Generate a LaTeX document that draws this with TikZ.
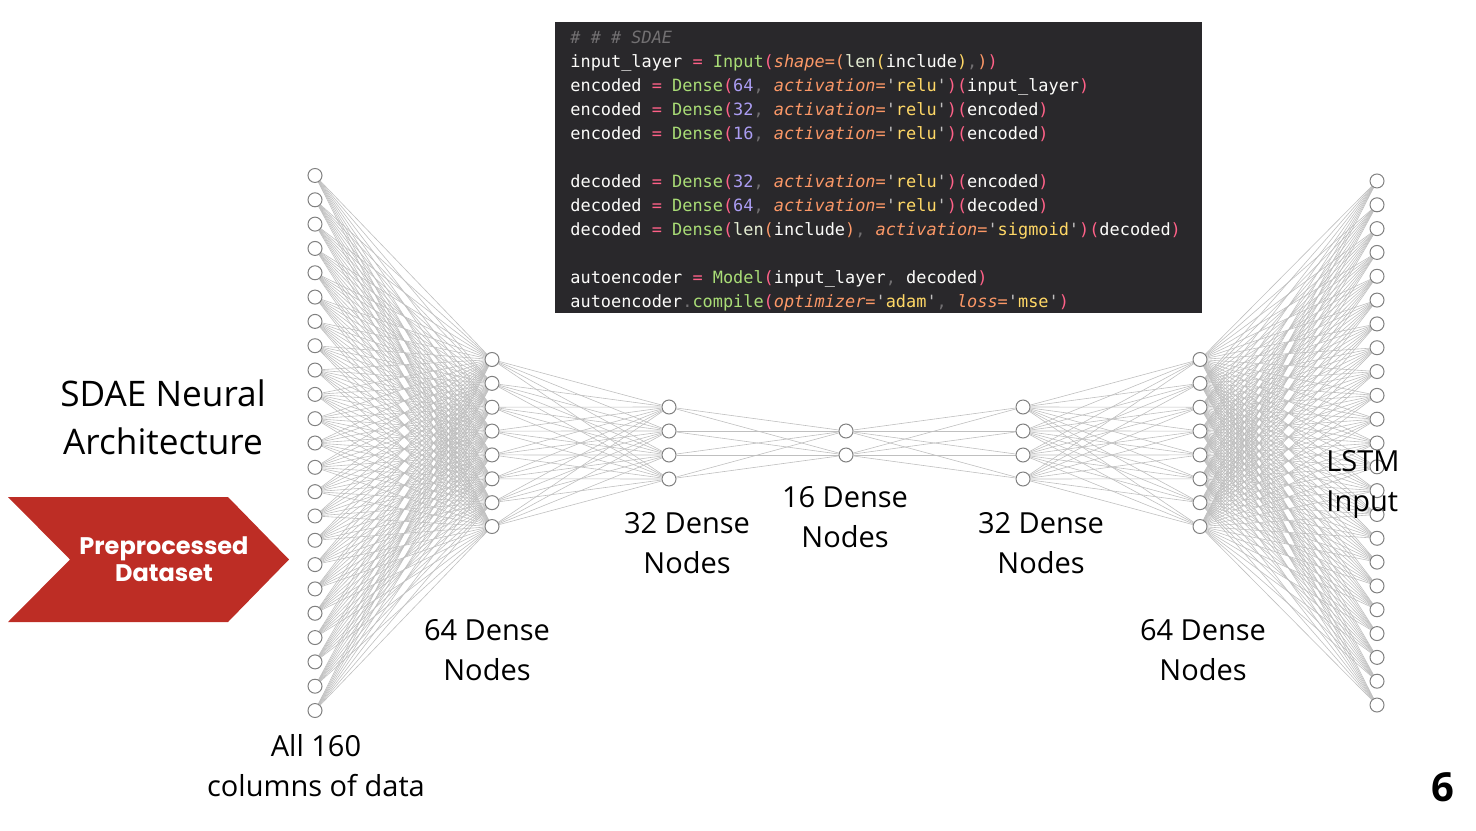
\documentclass[tikz,border=0pt]{standalone}
\usepackage{fontspec}
\usepackage{xcolor}
\setmainfont{Open Sans}
\setmonofont{DejaVu Sans Mono}
\newfontfamily\popfont{Poppins}

\definecolor{codebg}{HTML}{29282B}
\definecolor{cwhite}{HTML}{FCFCFA}
\definecolor{cgray}{HTML}{727072}
\definecolor{cquote}{HTML}{C1C0C0}
\definecolor{cpink}{HTML}{FF6188}
\definecolor{cgreen}{HTML}{A9DC76}
\definecolor{clen}{HTML}{E3ECD2}
\definecolor{corange}{HTML}{FC9867}
\definecolor{cyellow}{HTML}{FFD866}
\definecolor{cpurple}{HTML}{AB9DF2}
\definecolor{arrowred}{HTML}{BD2D25}

% code colouring
\newcommand\cq{\textcolor{cquote}{'}}
\newcommand\cstr[1]{\cq\textcolor{cyellow}{#1}\cq}
\newcommand\cfn[1]{\textcolor{cgreen}{#1}}
\newcommand\ceq{\textcolor{cpink}{=}}
\newcommand\cpa[1]{\textcolor{cpink}{#1}}
\newcommand\cpb[1]{\textcolor{corange}{#1}}
\newcommand\cpc[1]{\textcolor{cyellow}{#1}}
\newcommand\ckw[1]{\textcolor{corange}{\itshape #1=}}
\newcommand\cnum[1]{\textcolor{cpurple}{#1}}
\newcommand\ccm{\textcolor{cgray}{,}}
\newcommand\clen{\textcolor{clen}{len}}

\pgfdeclarelayer{bg}
\pgfsetlayers{bg,main}

\tikzset{
  neuron/.style={circle, draw=black!50, line width=0.5pt, fill=white, minimum size=7pt, inner sep=0pt},
  link/.style={draw=black!25, line width=0.3pt},
  lbl/.style={align=center, inner sep=0pt, font=\fontsize{14.5}{20}\selectfont},
  codetxt/.style={align=left, inner sep=0pt, text=cwhite, font=\ttfamily\fontsize{8.45}{12}\selectfont}
}

\begin{document}
\begin{tikzpicture}[x=0.5pt, y=-0.5pt]
\useasboundingbox (0,0) rectangle (1476,830);
% code
\fill[codebg] (555,22) rectangle (1202,313);
\node[codetxt, anchor=north west] (code) at (570,31) {%
\textcolor{cgray}{\itshape \# \# \# SDAE}\\
input\_layer \ceq{} \cfn{Input}\cpa{(}\ckw{shape}\cpb{(}\clen\cpc{(}include\cpc{)}\ccm\cpb{)}\cpa{)}\\
encoded \ceq{} \cfn{Dense}\cpa{(}\cnum{64}\ccm{} \ckw{activation}\cstr{relu}\cpa{)(}input\_layer\cpa{)}\\
encoded \ceq{} \cfn{Dense}\cpa{(}\cnum{32}\ccm{} \ckw{activation}\cstr{relu}\cpa{)(}encoded\cpa{)}\\
encoded \ceq{} \cfn{Dense}\cpa{(}\cnum{16}\ccm{} \ckw{activation}\cstr{relu}\cpa{)(}encoded\cpa{)}\\[12pt]
decoded \ceq{} \cfn{Dense}\cpa{(}\cnum{32}\ccm{} \ckw{activation}\cstr{relu}\cpa{)(}encoded\cpa{)}\\
decoded \ceq{} \cfn{Dense}\cpa{(}\cnum{64}\ccm{} \ckw{activation}\cstr{relu}\cpa{)(}decoded\cpa{)}\\
decoded \ceq{} \cfn{Dense}\cpa{(}\clen\cpb{(}include\cpb{)}\ccm{} \ckw{activation}\cstr{sigmoid}\cpa{)(}decoded\cpa{)}\\[12pt]
autoencoder \ceq{} \cfn{Model}\cpa{(}input\_layer\ccm{} decoded\cpa{)}\\
autoencoder\textcolor{cgray}{.}\cfn{compile}\cpa{(}\ckw{optimizer}\cstr{adam}\ccm{} \ckw{loss}\cstr{mse}\cpa{)}};
% arrow
\fill[arrowred] (8,497) -- (228,497) -- (289,559.5) -- (228,622) -- (8,622) -- (70,559.5) -- cycle;
\node[align=center, inner sep=0pt, text=white, font=\popfont\bfseries\fontsize{12}{13.5}\selectfont] (prep) at (164,559) {Preprocessed\\Dataset};
% layers
\foreach \ly/\xx/\nn/\dd in {0/315/23/24.32, 1/492/8/23.86, 2/669/4/24, 3/846/2/24, 4/1023/4/24, 5/1200/8/23.86, 6/1377/23/23.82}
  \foreach \i in {1,...,\nn}
    \node[neuron] (n\ly-\i) at (\xx,{443+(\i-(\nn+1)/2)*\dd}) {};
% links
\begin{pgfonlayer}{bg}
\foreach \a/\b/\na/\nb in {0/1/23/8, 1/2/8/4, 2/3/4/2, 3/4/2/4, 4/5/4/8, 5/6/8/23}
  \foreach \i in {1,...,\na}
    \foreach \j in {1,...,\nb}
      \draw[link] (n\a-\i) -- (n\b-\j);
\end{pgfonlayer}
%Text
\node[align=center, inner sep=0pt, font=\fontsize{17.6}{24}\selectfont] (title) at (163,417) {SDAE Neural\\Architecture};
\node[lbl] (d64a) at (487,650) {64 Dense\\Nodes};
\node[lbl] (d32a) at (687,543) {32 Dense\\Nodes};
\node[lbl] (d16) at (845,517) {16 Dense\\Nodes};
\node[lbl] (d32b) at (1041,543) {32 Dense\\Nodes};
\node[lbl] (d64b) at (1203,650) {64 Dense\\Nodes};
\node[lbl, align=left, anchor=west] (lstm) at (1326,484) {LSTM\\Input};
\node[lbl] (cols) at (316,766) {All 160\\columns of data};
\node[inner sep=0pt, font=\bfseries\fontsize{20}{24}\selectfont] (page) at (1443,787) {6};
\end{tikzpicture}
\end{document}
